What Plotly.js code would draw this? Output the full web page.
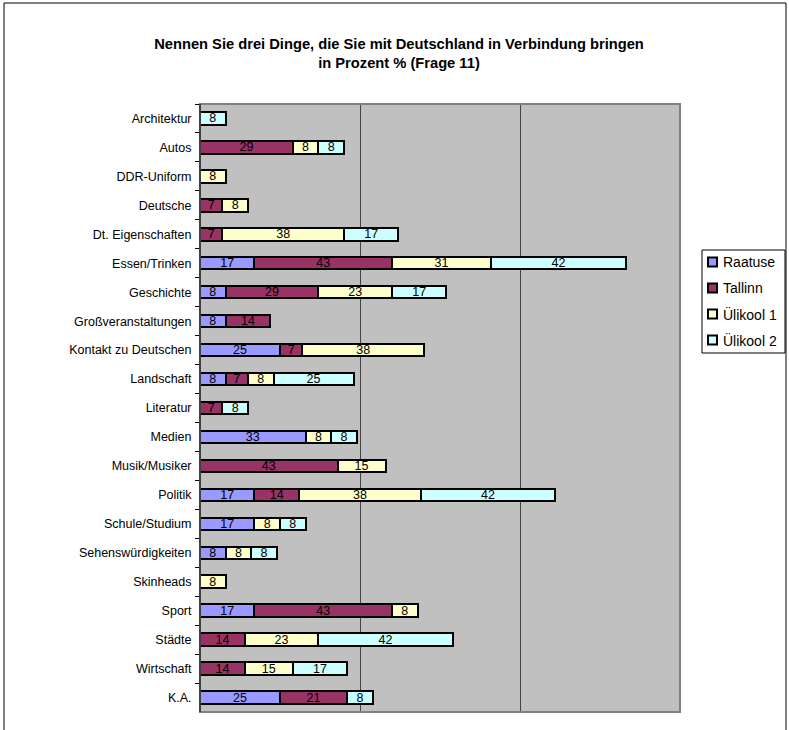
<!DOCTYPE html>
<html>
<head>
<meta charset="utf-8">
<script src="https://cdn.plot.ly/plotly-3.0.1.min.js"></script>
<style>html,body{margin:0;padding:0;background:#fff;}</style>
</head>
<body>
<div id="chart" style="width:789px;height:730px;"></div>
<script>
const categories = ["Architektur","Autos","DDR-Uniform","Deutsche","Dt. Eigenschaften","Essen/Trinken","Geschichte","Großveranstaltungen","Kontakt zu Deutschen","Landschaft","Literatur","Medien","Musik/Musiker","Politik","Schule/Studium","Sehenswürdigkeiten","Skinheads","Sport","Städte","Wirtschaft","K.A."];
const raatuse  = [null,null,null,null,null,17,8,8,25,8,null,33,null,17,17,8,null,17,null,null,25];
const tallinn  = [null,29,null,7,7,43,29,14,7,7,7,null,43,14,null,null,null,43,14,14,21];
const ulikool1 = [null,8,8,8,38,31,23,null,38,8,null,8,15,38,8,8,8,8,23,15,null];
const ulikool2 = [8,8,null,null,17,42,17,null,null,25,8,8,null,42,8,8,null,null,42,17,8];
const seriesNames = ["Raatuse","Tallinn","Ülikool 1","Ülikool 2"];
const seriesColors = ["#9999FF","#993366","#FFFFCC","#CCFFFF"];
const seriesValues = [raatuse, tallinn, ulikool1, ulikool2];

const FONT = "Liberation Sans, Arial, sans-serif";

const traces = seriesValues.map((vals, i) => ({
  type: "bar",
  orientation: "h",
  name: seriesNames[i],
  y: categories,
  x: vals,
  text: vals.map(v => v == null ? "" : String(v)),
  textposition: "inside",
  insidetextanchor: "middle",
  constraintext: "none",
  textangle: 0,
  insidetextfont: {family: FONT, size: 12.5, color: "#000"},
  marker: {color: seriesColors[i], line: {color: "#000", width: 2}},
  hoverinfo: "skip",
  showlegend: false
}));

const L = 200, R = 680, T = 104, B = 712, W = 789, H = 730;
const px = x => (x - L) / (R - L);
const py = y => (B - y) / (B - T);

// legend drawn from series names / colours
const legTop = 250, legStep = 26, legFirst = 262;
const legendShapes = [
  {type: "rect", xref: "paper", yref: "paper", x0: px(702), x1: px(785), y0: py(353), y1: py(legTop),
   line: {color: "#000", width: 1}, fillcolor: "#fff", layer: "above"}
];
const legendAnn = [];
seriesNames.forEach((n, i) => {
  const cy = legFirst + i * legStep;
  legendShapes.push({type: "rect", xref: "paper", yref: "paper",
    x0: px(708), x1: px(717), y0: py(cy + 4.5), y1: py(cy - 4.5),
    line: {color: "#000", width: 2}, fillcolor: seriesColors[i], layer: "above"});
  legendAnn.push({xref: "paper", yref: "paper", x: px(721), y: py(cy), xanchor: "left", yanchor: "middle",
    text: n, showarrow: false, font: {family: FONT, size: 14, color: "#000"}});
});

const layout = {
  width: W, height: H,
  margin: {l: L, r: W - R, t: T, b: H - B, pad: 0, autoexpand: false},
  paper_bgcolor: "#fff",
  plot_bgcolor: "#C0C0C0",
  barmode: "stack",
  bargap: 0.57,
  showlegend: false,
  font: {family: FONT, size: 12.5, color: "#000"},
  title: {
    text: "<b>Nennen Sie drei Dinge, die Sie mit Deutschland in Verbindung bringen<br>in Prozent % (Frage 11)</b>",
    font: {family: FONT, size: 14.7, color: "#000"},
    x: px(399), xanchor: "center", xref: "paper",
    y: 1 - 49 / H, yanchor: "middle"
  },
  xaxis: {
    range: [0, 150], dtick: 50, tick0: 0,
    showgrid: true, gridcolor: "#444", gridwidth: 1,
    showticklabels: false, ticks: "",
    zeroline: false, showline: false, fixedrange: true
  },
  yaxis: {
    type: "category", autorange: "reversed",
    ticks: "outside", tickson: "boundaries", ticklen: 4, tickcolor: "#000", tickwidth: 1,
    showline: true, linecolor: "#000", linewidth: 1,
    showgrid: false, zeroline: false,
    tickfont: {family: FONT, size: 12.5, color: "#000"},
    ticklabelstandoff: 5
  },
  annotations: legendAnn,
  shapes: [
    {type: "rect", xref: "paper", yref: "paper", x0: 0, x1: 1, y0: 0, y1: 1,
     line: {color: "#808080", width: 2}, fillcolor: "rgba(0,0,0,0)", layer: "above"},
    {type: "line", xref: "paper", yref: "paper", x0: 0, x1: 0, y0: 0, y1: 1,
     line: {color: "#000", width: 1}, layer: "above"},
    {type: "rect", xref: "paper", yref: "paper", x0: px(4), x1: px(786), y0: py(740), y1: py(3),
     line: {color: "#000", width: 1}, fillcolor: "rgba(0,0,0,0)", layer: "below"}
  ].concat(legendShapes)
};

Plotly.newPlot("chart", traces, layout, {displayModeBar: false, staticPlot: true});
</script>
</body>
</html>
